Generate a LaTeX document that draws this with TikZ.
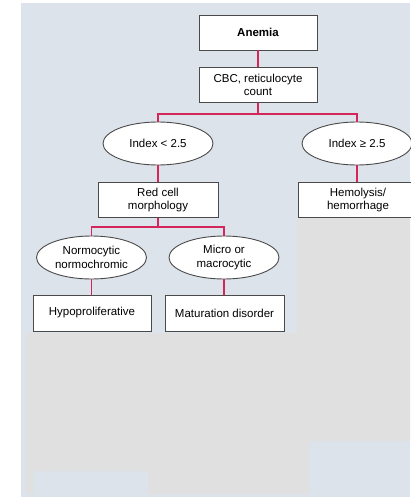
\documentclass[tikz,border=0pt]{standalone}
\usepackage{fontspec}
\setmainfont{Liberation Sans}
\usetikzlibrary{shapes.geometric}
\definecolor{panel}{HTML}{DCE3EA}
\definecolor{greyarea}{HTML}{E0E0E0}
\definecolor{conn}{HTML}{D4265A}
\definecolor{boxline}{HTML}{4A4A4A}
\begin{document}
\begin{tikzpicture}[x=1pt,y=-1pt,
  box/.style={draw=boxline, line width=0.9pt, fill=white, minimum width=118pt, minimum height=35pt, inner sep=0pt, align=center, font=\fontsize{11.5}{13.5}\selectfont},
  oval/.style={ellipse, draw=boxline, line width=0.9pt, fill=white, minimum width=110pt, minimum height=43pt, inner sep=0pt, align=center, font=\fontsize{11.5}{13.5}\selectfont},
  link/.style={draw=conn, line width=1.3pt}]
\useasboundingbox (0,0) rectangle (410,497);
\fill[white] (0,0) rectangle (410,497);
\fill[panel] (21,3) rectangle (410,497);
\fill[greyarea] (26,333) -- (297,333) -- (297,218) -- (410,218) -- (410,441) -- (309,441) -- (309,494) -- (148,494) -- (148,471) -- (33,471) -- (33,494) -- (26,494) -- cycle;

\node[box] (anemia) at (258,32.5) {\textbf{Anemia}};
\node[box] (cbc) at (258,85) {CBC, reticulocyte\\count};
\node[oval] (ilow) at (158,143.5) {Index < 2.5};
\node[oval] (ihigh) at (357,143.5) {Index ≥ 2.5};
\node[box, minimum width=120pt] (rc) at (158,200) {Red cell\\morphology};
\node[box, minimum width=120pt] (hem) at (358,200) {Hemolysis/\\hemorrhage};
\node[oval] (normo) at (91.5,257.5) {Normocytic\\normochromic};
\node[oval] (micro) at (224,257.5) {Micro or\\macrocytic};
\node[box, minimum height=36pt] (hypo) at (92,313) {Hypoproliferative};
\node[box, minimum width=119pt, minimum height=36pt] (mat) at (224.5,313) {Maturation disorder};

\draw[link] (anemia.south) -- (cbc.north);
\draw[link] (cbc.south) -- ++(0,11) -| (ilow.north);
\draw[link] (cbc.south) -- ++(0,11) -| (ihigh.north);
\draw[link] (ilow.south) -- (rc.north);
\draw[link] (ihigh.south) -- (hem.north -| ihigh.south);
\draw[link] (rc.south) -- ++(0,9) -| (normo.north);
\draw[link] (rc.south) -- ++(0,9) -| (micro.north);
\draw[link] (normo.south) -- (hypo.north -| normo.south);
\draw[link] (micro.south) -- (mat.north -| micro.south);
\end{tikzpicture}
\end{document}
